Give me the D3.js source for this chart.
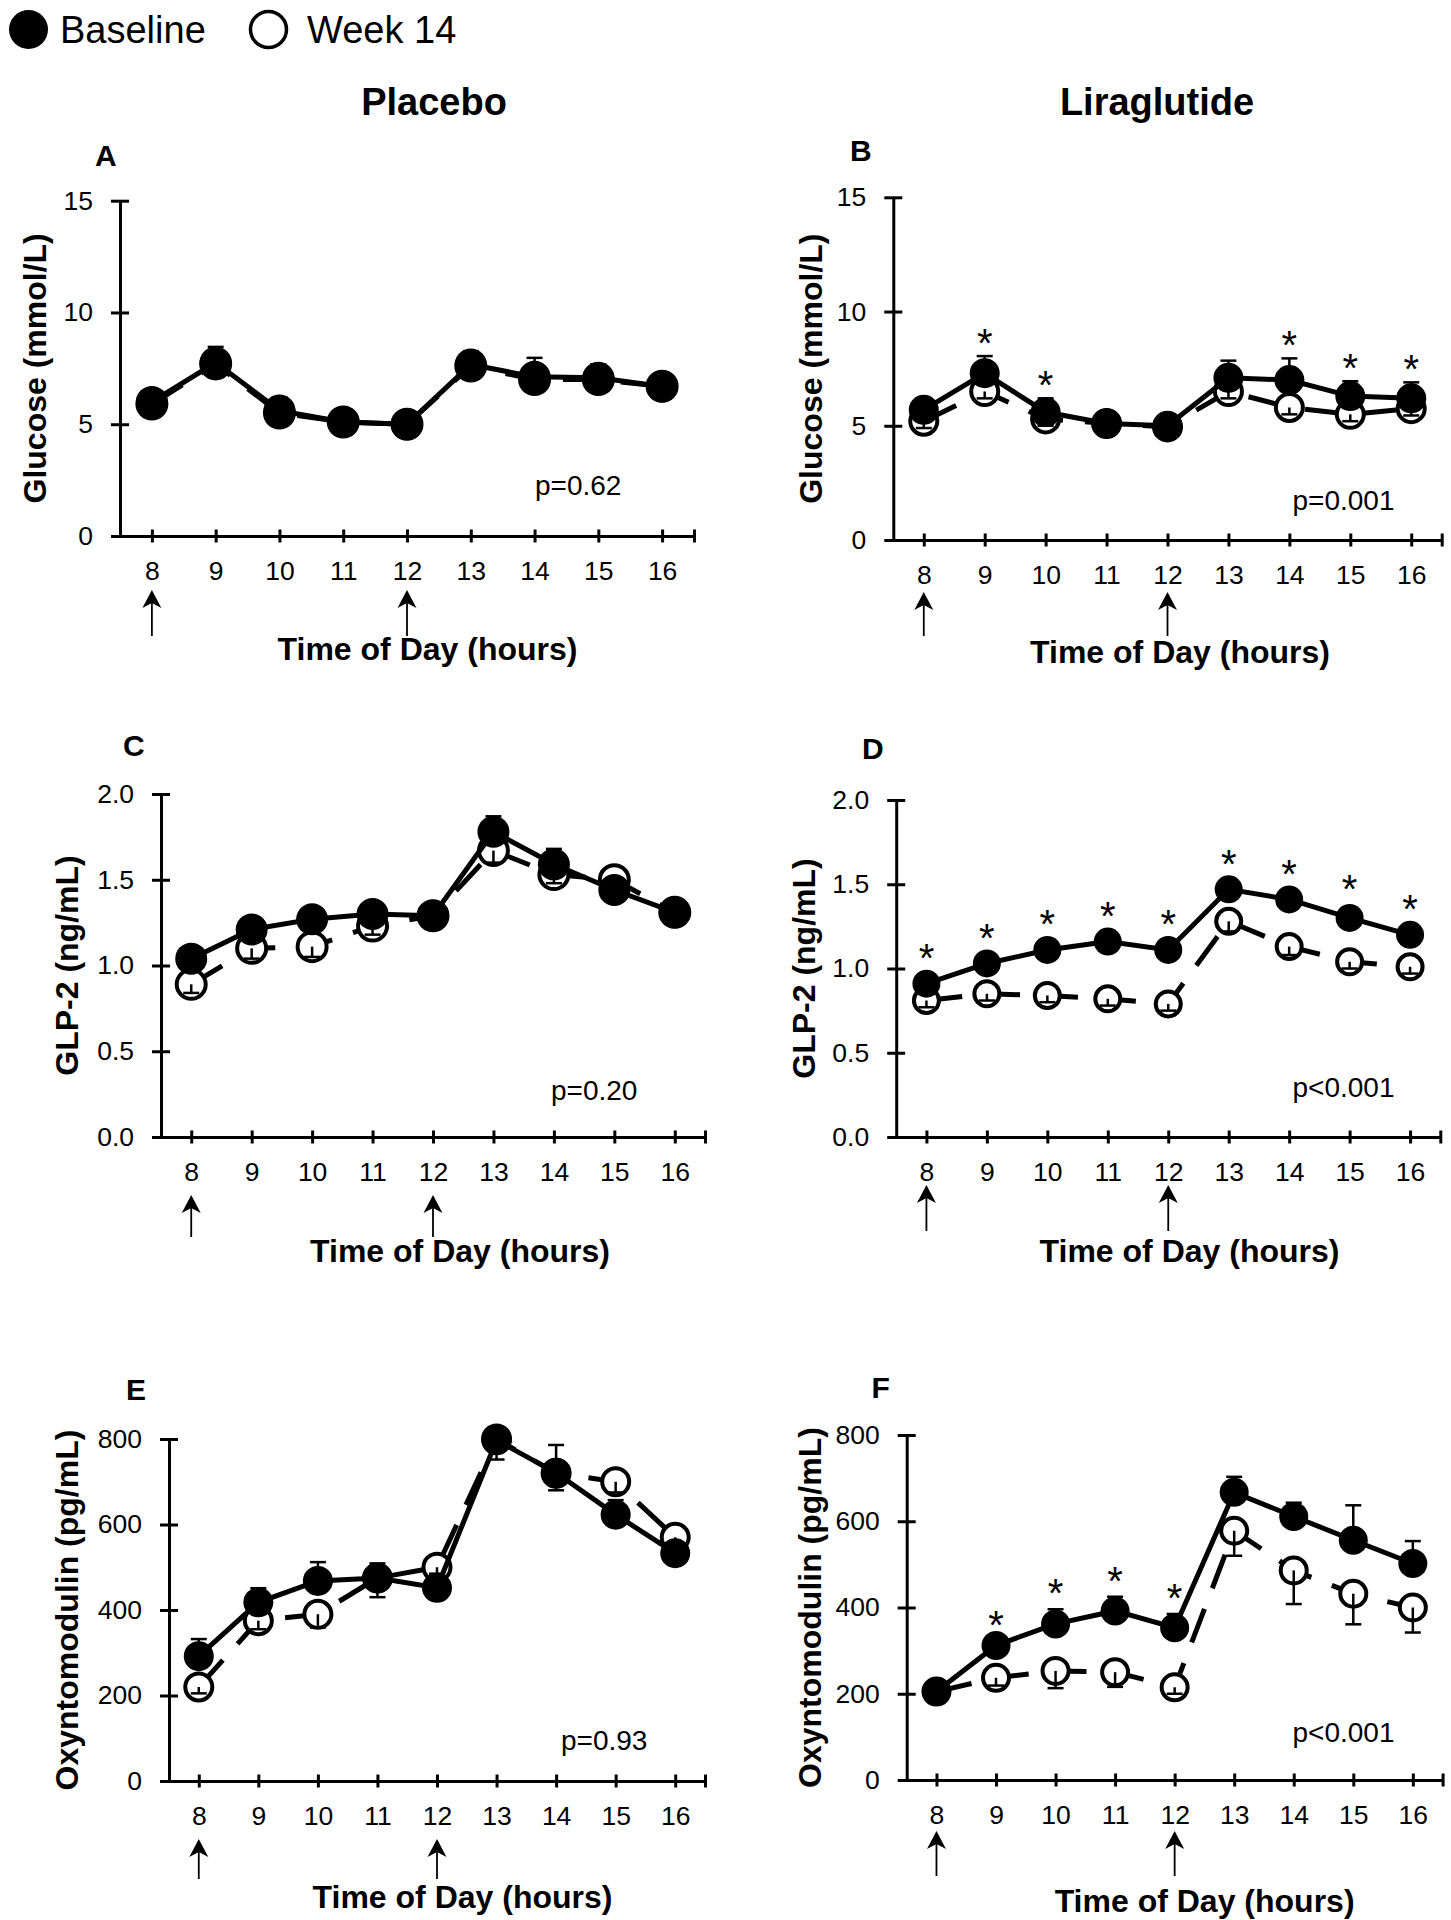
<!DOCTYPE html>
<html><head><meta charset="utf-8">
<script src="https://cdn.jsdelivr.net/npm/d3@7"></script>
<style>body{margin:0;background:#fff} svg{display:block} text{font-family:"Liberation Sans",Arial,sans-serif;fill:#000}</style>
</head><body><svg id="c" width="1451" height="1920"></svg>
<script>
// ---------- DATA ----------
const hours = [8, 9, 10, 11, 12, 13, 14, 15, 16];
const arrowHours = [8, 12];
const legendLabels = ["Baseline", "Week 14"];
const columnTitles = ["Placebo", "Liraglutide"];
const panelLetters = ["A", "B", "C", "D", "E", "F"];
const yAxisTitles = ["Glucose (mmol/L)", "Glucose (mmol/L)", "GLP-2 (ng/mL)", "GLP-2 (ng/mL)", "Oxyntomodulin (pg/mL)", "Oxyntomodulin (pg/mL)"];
const xAxisTitle = "Time of Day (hours)";
const pLabels = ["p=0.62", "p=0.001", "p=0.20", "p<0.001", "p=0.93", "p<0.001"];
const glucoseTicks = [0, 5, 10, 15];
const glp2Ticks = [0, 0.5, 1.0, 1.5, 2.0];
const oxmTicks = [0, 200, 400, 600, 800];

// A: Glucose, placebo
const glucosePlaceboBaseline = [6.0, 7.76, 5.61, 5.1, 5.0, 7.67, 7.12, 7.08, 6.69];
const glucosePlaceboBaselineSE = [0.3, 0.7, 0.6, 0.5, 0.5, 0.6, 0.85, 0.6, 0.6];
const glucosePlaceboWeek14 = [5.9, 7.7, 5.5, 5.1, 5.0, 7.6, 7.0, 7.0, 6.7];
const glucosePlaceboWeek14SE = [0.3, 0.4, 0.3, 0.3, 0.3, 0.3, 0.3, 0.3, 0.3];
// B: Glucose, liraglutide
const glucoseLiraBaseline = [5.7, 7.3, 5.6, 5.1, 5.0, 7.1, 7.0, 6.3, 6.2];
const glucoseLiraBaselineSE = [0.3, 0.75, 0.6, 0.2, 0.2, 0.75, 0.95, 0.65, 0.7];
const glucoseLiraWeek14 = [5.2, 6.5, 5.3, 5.1, 4.95, 6.5, 5.8, 5.5, 5.75];
const glucoseLiraWeek14SE = [0.3, 0.3, 0.3, 0.2, 0.2, 0.3, 0.3, 0.3, 0.3];
const glucoseLiraStars = [9, 10, 14, 15, 16];
// C: GLP-2, placebo
const glp2PlaceboBaseline = [1.04, 1.21, 1.27, 1.30, 1.29, 1.78, 1.59, 1.44, 1.31];
const glp2PlaceboBaselineSE = [0.07, 0.05, 0.05, 0.04, 0.04, 0.09, 0.09, 0.04, 0.05];
const glp2PlaceboWeek14 = [0.89, 1.10, 1.11, 1.23, 1.29, 1.67, 1.53, 1.50, 1.31];
const glp2PlaceboWeek14SE = [0.05, 0.06, 0.06, 0.05, 0.04, 0.07, 0.05, 0.05, 0.04];
// D: GLP-2, liraglutide
const glp2LiraBaseline = [0.91, 1.03, 1.11, 1.16, 1.11, 1.47, 1.41, 1.30, 1.20];
const glp2LiraBaselineSE = [0.04, 0.04, 0.04, 0.04, 0.04, 0.04, 0.04, 0.06, 0.04];
const glp2LiraWeek14 = [0.81, 0.85, 0.84, 0.82, 0.79, 1.28, 1.13, 1.04, 1.01];
const glp2LiraWeek14SE = [0.04, 0.04, 0.04, 0.04, 0.04, 0.06, 0.05, 0.04, 0.04];
const glp2LiraStars = [8, 9, 10, 11, 12, 13, 14, 15, 16];
// E: Oxyntomodulin, placebo
const oxmPlaceboBaseline = [292, 418, 468, 475, 452, 797, 721, 623, 533];
const oxmPlaceboBaselineSE = [40, 33, 44, 34, 15, 15, 65, 34, 20];
const oxmPlaceboWeek14 = [220, 375, 390, 475, 500, 800, 720, 700, 570];
const oxmPlaceboWeek14SE = [15, 20, 31, 45, 15, 48, 40, 25, 15];
// F: Oxyntomodulin, liraglutide
const oxmLiraBaseline = [205, 312, 362, 392, 353, 667, 611, 556, 502];
const oxmLiraBaselineSE = [10, 10, 34, 33, 32, 36, 32, 81, 52];
const oxmLiraWeek14 = [205, 237, 253, 250, 215, 578, 486, 432, 400];
const oxmLiraWeek14SE = [10, 18, 40, 34, 15, 58, 78, 71, 58];
const oxmLiraStars = [9, 10, 11, 12];

// ---------- LAYOUT (positions / styles) ----------
const layouts = [
  {yAxisX:120, xEnd:694, y0:536, yTop:200.7, r:16, letter:[95,166], yTitleX:46, p:[535,495], xt:[427.5,660], arrow:[54,100], starGap:22},
  {yAxisX:893.3, xEnd:1441.7, y0:540, yTop:197.3, r:15, letter:[850,161], yTitleX:822, p:[1292.5,510], xt:[1180,663], arrow:[52,96], starGap:22},
  {yAxisX:161, xEnd:705, y0:1137, yTop:794, r:16, letter:[123,756], yTitleX:78, p:[551,1100], xt:[460,1262], arrow:[58,100], starGap:28},
  {yAxisX:896.2, xEnd:1440.3, y0:1137, yTop:800, r:14, letter:[862,758.5], yTitleX:815, p:[1292.5,1097], xt:[1189.5,1262], arrow:[48,94], starGap:28},
  {yAxisX:169, xEnd:705, y0:1781, yTop:1439, r:15, letter:[126,1400], yTitleX:78, p:[561,1750], xt:[462.5,1908], arrow:[58,98], starGap:25},
  {yAxisX:906.7, xEnd:1442.6, y0:1780, yTop:1435, r:14.5, letter:[871.5,1398], yTitleX:821, p:[1292.5,1742], xt:[1204.6,1912], arrow:[51,96], starGap:25}
];

const panels = [
  {base:glucosePlaceboBaseline, baseSE:glucosePlaceboBaselineSE, wk:glucosePlaceboWeek14, wkSE:glucosePlaceboWeek14SE, ticks:glucoseTicks, fmt:d3.format("d"), stars:[]},
  {base:glucoseLiraBaseline, baseSE:glucoseLiraBaselineSE, wk:glucoseLiraWeek14, wkSE:glucoseLiraWeek14SE, ticks:glucoseTicks, fmt:d3.format("d"), stars:glucoseLiraStars},
  {base:glp2PlaceboBaseline, baseSE:glp2PlaceboBaselineSE, wk:glp2PlaceboWeek14, wkSE:glp2PlaceboWeek14SE, ticks:glp2Ticks, fmt:d3.format(".1f"), stars:[]},
  {base:glp2LiraBaseline, baseSE:glp2LiraBaselineSE, wk:glp2LiraWeek14, wkSE:glp2LiraWeek14SE, ticks:glp2Ticks, fmt:d3.format(".1f"), stars:glp2LiraStars},
  {base:oxmPlaceboBaseline, baseSE:oxmPlaceboBaselineSE, wk:oxmPlaceboWeek14, wkSE:oxmPlaceboWeek14SE, ticks:oxmTicks, fmt:d3.format("d"), stars:[]},
  {base:oxmLiraBaseline, baseSE:oxmLiraBaselineSE, wk:oxmLiraWeek14, wkSE:oxmLiraWeek14SE, ticks:oxmTicks, fmt:d3.format("d"), stars:oxmLiraStars}
];

const svg = d3.select("#c");
const FONT = '"Liberation Sans", Arial, sans-serif';

// legend
svg.append("circle").attr("cx", 28.5).attr("cy", 29.5).attr("r", 19.5).attr("fill", "#000");
svg.append("text").attr("x", 60).attr("y", 43).attr("font-size", 38).text(legendLabels[0]);
svg.append("circle").attr("cx", 268.5).attr("cy", 29.5).attr("r", 18).attr("fill", "#fff").attr("stroke", "#000").attr("stroke-width", 3.5);
svg.append("text").attr("x", 307).attr("y", 43).attr("font-size", 38).text(legendLabels[1]);

// column titles
svg.append("text").attr("x", 434).attr("y", 115).attr("text-anchor", "middle").attr("font-size", 38).attr("font-weight", "bold").text(columnTitles[0]);
svg.append("text").attr("x", 1157).attr("y", 115).attr("text-anchor", "middle").attr("font-size", 38).attr("font-weight", "bold").text(columnTitles[1]);

function drawPanel(p, L, i) {
  const g = svg.append("g");
  const x = d3.scaleLinear().domain([7.5, 16.5]).range([L.yAxisX, L.xEnd]);
  const y = d3.scaleLinear().domain([0, d3.max(p.ticks)]).range([L.y0, L.yTop]);

  // y axis
  const ya = g.append("g").attr("transform", `translate(${L.yAxisX},0)`)
    .call(d3.axisLeft(y).tickValues(p.ticks).tickFormat(p.fmt).tickSizeInner(9).tickSizeOuter(0).tickPadding(18));
  ya.selectAll(".tick line").attr("x1", 9);
  // x axis
  const xa = g.append("g").attr("transform", `translate(0,${L.y0})`)
    .call(d3.axisBottom(x).tickValues(hours.concat([16.5])).tickFormat(d => d > 16 ? "" : String(d)).tickSizeInner(6.5).tickSizeOuter(0).tickPadding(19));
  xa.selectAll(".tick line").attr("y1", -6.5);
  [ya, xa].forEach(a => {
    a.attr("font-family", FONT).attr("font-size", 26.5);
    a.select(".domain").attr("stroke", "#000").attr("stroke-width", 3);
    a.selectAll(".tick line").attr("stroke", "#000").attr("stroke-width", 3);
    a.selectAll(".tick text").attr("fill", "#000");
  });

  // arrows
  arrowHours.forEach(h => {
    const ax = x(h), tip = L.y0 + L.arrow[0], bot = L.y0 + L.arrow[1];
    g.append("line").attr("x1", ax).attr("x2", ax).attr("y1", tip + 10).attr("y2", bot).attr("stroke", "#000").attr("stroke-width", 1.8);
    g.append("path").attr("d", `M${ax},${tip} L${ax - 9.5},${tip + 18} L${ax},${tip + 13} L${ax + 9.5},${tip + 18} Z`).attr("fill", "#000");
  });

  const line = d3.line().x((d, j) => x(hours[j])).y(d => y(d));

  // week 14 (open, dashed, error bars downward)
  g.append("path").datum(p.wk).attr("d", line).attr("fill", "none").attr("stroke", "#000")
    .attr("stroke-width", 5).attr("stroke-dasharray", "36,22");
  g.selectAll(".wk").data(p.wk).enter().append("circle")
    .attr("cx", (d, j) => x(hours[j])).attr("cy", d => y(d)).attr("r", L.r - 1.5)
    .attr("fill", "#fff").attr("stroke", "#000").attr("stroke-width", 4);
  p.wk.forEach((v, j) => {
    const cx = x(hours[j]), yb = y(v - p.wkSE[j]);
    g.append("line").attr("x1", cx).attr("x2", cx).attr("y1", y(v)).attr("y2", yb).attr("stroke", "#000").attr("stroke-width", 2.5);
    g.append("line").attr("x1", cx - 8).attr("x2", cx + 8).attr("y1", yb).attr("y2", yb).attr("stroke", "#000").attr("stroke-width", 2.5);
  });

  // baseline (filled, solid, error bars upward)
  g.append("path").datum(p.base).attr("d", line).attr("fill", "none").attr("stroke", "#000").attr("stroke-width", 5);
  g.selectAll(".bs").data(p.base).enter().append("circle")
    .attr("cx", (d, j) => x(hours[j])).attr("cy", d => y(d)).attr("r", L.r).attr("fill", "#000");
  p.base.forEach((v, j) => {
    const cx = x(hours[j]), yt = y(v + p.baseSE[j]);
    g.append("line").attr("x1", cx).attr("x2", cx).attr("y1", y(v)).attr("y2", yt).attr("stroke", "#000").attr("stroke-width", 2.5);
    g.append("line").attr("x1", cx - 8).attr("x2", cx + 8).attr("y1", yt).attr("y2", yt).attr("stroke", "#000").attr("stroke-width", 2.5);
  });

  // asterisks
  p.stars.forEach(h => {
    const j = hours.indexOf(h);
    const cy = y(p.base[j] + p.baseSE[j]) - L.starGap;
    g.append("text").attr("x", x(h)).attr("y", cy + 23).attr("text-anchor", "middle").attr("font-size", 40).text("*");
  });

  // texts
  g.append("text").attr("x", L.letter[0]).attr("y", L.letter[1]).attr("font-size", 30).attr("font-weight", "bold").text(panelLetters[i]);
  g.append("text").attr("transform", `translate(${L.yTitleX},${(L.y0 + L.yTop) / 2}) rotate(-90)`)
    .attr("text-anchor", "middle").attr("font-size", 32).attr("font-weight", "bold").text(yAxisTitles[i]);
  g.append("text").attr("x", L.p[0]).attr("y", L.p[1]).attr("font-size", 28).text(pLabels[i]);
  g.append("text").attr("x", L.xt[0]).attr("y", L.xt[1]).attr("text-anchor", "middle").attr("font-size", 32).attr("font-weight", "bold").text(xAxisTitle);
}

panels.forEach((p, i) => drawPanel(p, layouts[i], i));
</script></body></html>
